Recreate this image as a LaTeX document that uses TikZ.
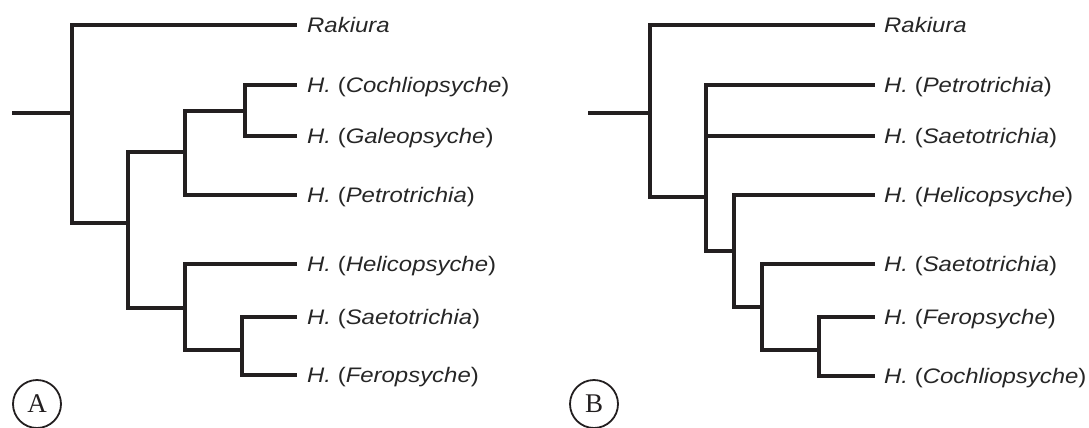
\documentclass[tikz,border=0pt]{standalone}
\usepackage{fontspec}
\newfontfamily\labfont[FakeStretch=1.14]{Liberation Sans}
\newfontfamily\letfont{Liberation Serif}
\definecolor{branch}{HTML}{231F20}
\definecolor{txt}{HTML}{262626}
\tikzset{
  br/.style={draw=branch, line width=3.2pt},
  leaflab/.style={anchor=base west, inner sep=0pt, text=txt, font=\labfont\fontsize{21}{24}\selectfont},
  panel/.style={circle, draw=branch, line width=1.8pt, minimum size=48pt, inner sep=0pt, font=\letfont\fontsize{27}{30}\selectfont, text=branch}
}
\newcommand{\hh}[1]{\textit{H.} (\textit{#1})}
\begin{document}
\begin{tikzpicture}[x=1pt,y=-1pt]
\useasboundingbox (0,0) rectangle (1089,428);
% ---------- Tree A ----------
\coordinate (r0A) at (12,113);
\coordinate (a1) at (72,113);
\coordinate (a2) at (128,223);
\coordinate (a3) at (185,152);
\coordinate (a4) at (245,111);
\coordinate (a5) at (185,308);
\coordinate (a6) at (242,350);
\coordinate (tA1) at (297,25);
\coordinate (tA2) at (297,85);
\coordinate (tA3) at (297,136);
\coordinate (tA4) at (297,195);
\coordinate (tA5) at (297,264);
\coordinate (tA6) at (297,317);
\coordinate (tA7) at (297,375);
\draw[br] (r0A) -- (a1);
\draw[br] (a1) |- (tA1);
\draw[br] (a1) |- (a2);
\draw[br] (a2) |- (a3);
\draw[br] (a2) |- (a5);
\draw[br] (a3) |- (a4);
\draw[br] (a3) |- (tA4);
\draw[br] (a4) |- (tA2);
\draw[br] (a4) |- (tA3);
\draw[br] (a5) |- (tA5);
\draw[br] (a5) |- (a6);
\draw[br] (a6) |- (tA6);
\draw[br] (a6) |- (tA7);
\node[leaflab] (LA1) at ([xshift=10pt,yshift=-7.5pt]tA1) {\textit{Rakiura}};
\node[leaflab] (LA2) at ([xshift=10pt,yshift=-7.5pt]tA2) {\hh{Cochliopsyche}};
\node[leaflab] (LA3) at ([xshift=10pt,yshift=-7.5pt]tA3) {\hh{Galeopsyche}};
\node[leaflab] (LA4) at ([xshift=10pt,yshift=-7.5pt]tA4) {\hh{Petrotrichia}};
\node[leaflab] (LA5) at ([xshift=10pt,yshift=-7.5pt]tA5) {\hh{Helicopsyche}};
\node[leaflab] (LA6) at ([xshift=10pt,yshift=-7.5pt]tA6) {\hh{Saetotrichia}};
\node[leaflab] (LA7) at ([xshift=10pt,yshift=-7.5pt]tA7) {\hh{Feropsyche}};
\node[panel] (PA) at (37,404) {A};
% ---------- Tree B ----------
\coordinate (r0B) at (588,113);
\coordinate (b1) at (650,113);
\coordinate (b2) at (706,197);
\coordinate (b3) at (734,251);
\coordinate (b4) at (762,307);
\coordinate (b5) at (819,350);
\coordinate (tB1) at (875,25);
\coordinate (tB2) at (875,85);
\coordinate (tB3) at (875,136);
\coordinate (tB4) at (875,195);
\coordinate (tB5) at (875,264);
\coordinate (tB6) at (875,317);
\coordinate (tB7) at (875,376);
\draw[br] (r0B) -- (b1);
\draw[br] (b1) |- (tB1);
\draw[br] (b1) |- (b2);
\draw[br] (b2) |- (tB2);
\draw[br] (b2) |- (tB3);
\draw[br] (b2) |- (b3);
\draw[br] (b3) |- (tB4);
\draw[br] (b3) |- (b4);
\draw[br] (b4) |- (tB5);
\draw[br] (b4) |- (b5);
\draw[br] (b5) |- (tB6);
\draw[br] (b5) |- (tB7);
\node[leaflab] (LB1) at ([xshift=9pt,yshift=-7.5pt]tB1) {\textit{Rakiura}};
\node[leaflab] (LB2) at ([xshift=9pt,yshift=-7.5pt]tB2) {\hh{Petrotrichia}};
\node[leaflab] (LB3) at ([xshift=9pt,yshift=-7.5pt]tB3) {\hh{Saetotrichia}};
\node[leaflab] (LB4) at ([xshift=9pt,yshift=-7.5pt]tB4) {\hh{Helicopsyche}};
\node[leaflab] (LB5) at ([xshift=9pt,yshift=-7.5pt]tB5) {\hh{Saetotrichia}};
\node[leaflab] (LB6) at ([xshift=9pt,yshift=-7.5pt]tB6) {\hh{Feropsyche}};
\node[leaflab] (LB7) at ([xshift=9pt,yshift=-7.5pt]tB7) {\hh{Cochliopsyche}};
\node[panel] (PB) at (594,404) {B};
\end{tikzpicture}
\end{document}
